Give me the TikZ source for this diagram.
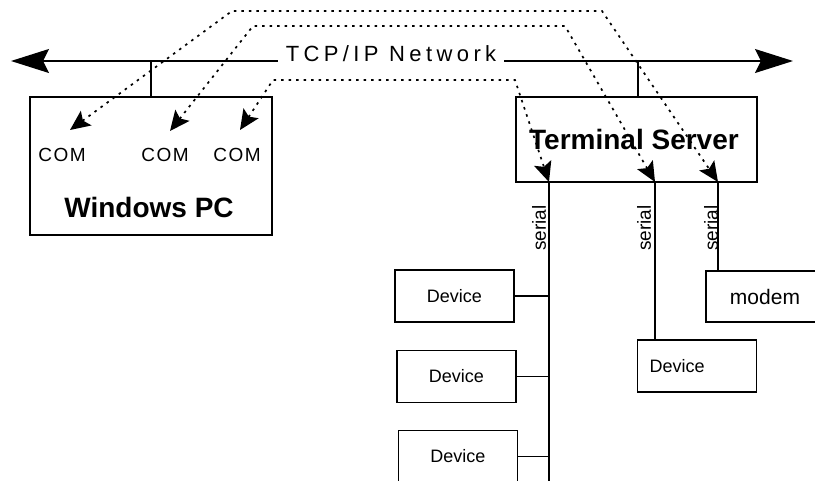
\documentclass[tikz,border=0pt]{standalone}
\usepackage{fontspec}
\setmainfont{Liberation Sans}
\newfontfamily\spacedfont[LetterSpace=20]{Liberation Sans}
\newfontfamily\comfont[LetterSpace=8]{Liberation Sans}
\usetikzlibrary{arrows.meta,positioning,calc}

\begin{document}
\begin{tikzpicture}[x=1pt,y=-1pt,>=Stealth,
 box/.style={draw,line width=1.6pt,inner sep=0pt},
 wire/.style={line width=1.3pt},
 link/.style={line width=1.7pt,dash pattern=on 2.5pt off 5pt,
   {Stealth[length=20pt,width=18pt,inset=4pt]}-{Stealth[length=20pt,width=18pt,inset=4pt]}},
 big/.style={font=\bfseries\fontsize{28}{32}\selectfont},
 port/.style={font=\comfont\fontsize{19}{22}\selectfont},
 dev/.style={box,minimum width=119pt,minimum height=52pt,font=\fontsize{18}{21}\selectfont},
 serial/.style={rotate=90,font=\fontsize{19}{22}\selectfont}]
\useasboundingbox (0,0) rectangle (815,480);
\clip (0,0) rectangle (815,480);
% network
\node[font=\spacedfont\fontsize{22}{26}\selectfont,inner xsep=8pt,inner ysep=2pt] (net) at (391,54) {TCP/IP Network};
\coordinate (netL) at (11,61);
\coordinate (netR) at (793,61);
\draw[wire,-{Stealth[length=38pt,width=24pt,inset=6pt]}] (net.west |- netL) -- (netL);
\draw[wire,-{Stealth[length=38pt,width=24pt,inset=6pt]}] (net.east |- netR) -- (netR);
% windows pc
\node[box,minimum width=242pt,minimum height=138pt] (pc) at (151,166) {};
\node[big] (pclabel) at (149,207) {Windows PC};
\node[port] (com1) at (62,155) {COM};
\node[port] (com2) at (165,155) {COM};
\node[port] (com3) at (237,155) {COM};
\coordinate (tap1) at (151,61);
\draw[wire] (tap1) -- (pc.north);
% terminal server
\node[box,minimum width=241pt,minimum height=85pt] (ts) at (636.5,139.5) {};
\node[big] (tslabel) at (634,139) {Terminal Server};
\coordinate (tap2) at (638,61);
\draw[wire] (tap2) -- (tap2 |- ts.north);
\coordinate (s1) at (549,182);
\coordinate (s2) at (655,182);
\coordinate (s3) at (718,182);
% devices
\node[dev] (dev1) at (454.5,296) {Device};
\node[dev] (dev2) at (456.5,376.5) {Device};
\node[dev] (dev3) at (458,456.5) {Device};
\node[dev,text width=95pt,inner xsep=12pt,align=left] (dev4) at (697,366) {Device};
\node[box,minimum width=118pt,minimum height=51pt,font=\fontsize{21}{24}\selectfont] (modem) at (765,296.5) {modem};
% serial lines
\coordinate (busend) at (549,490);
\draw[wire] (s1) -- (busend);
\draw[wire] (s2) -- (s2 |- dev4.north);
\draw[wire] (s3) -- (s3 |- modem.north);
\draw[wire] (dev1.east) -- (dev1.east -| s1);
\draw[wire] (dev2.east) -- (dev2.east -| s1);
\draw[wire] (dev3.east) -- (dev3.east -| s1);
\node[serial] (ser1) at (539,228) {serial};
\node[serial] (ser2) at (644,228) {serial};
\node[serial] (ser3) at (711,228) {serial};
% virtual com links
\coordinate (c1) at (70,130);
\coordinate (c2) at (170,131);
\coordinate (c3) at (240,130);
\draw[link] (c1) -- (232,11) -- (602,11) -- (s3);
\draw[link] (c2) -- (253,26) -- (565,26) -- (s2);
\draw[link] (c3) -- (273,80) -- (515,80) -- (s1);
\end{tikzpicture}
\end{document}
